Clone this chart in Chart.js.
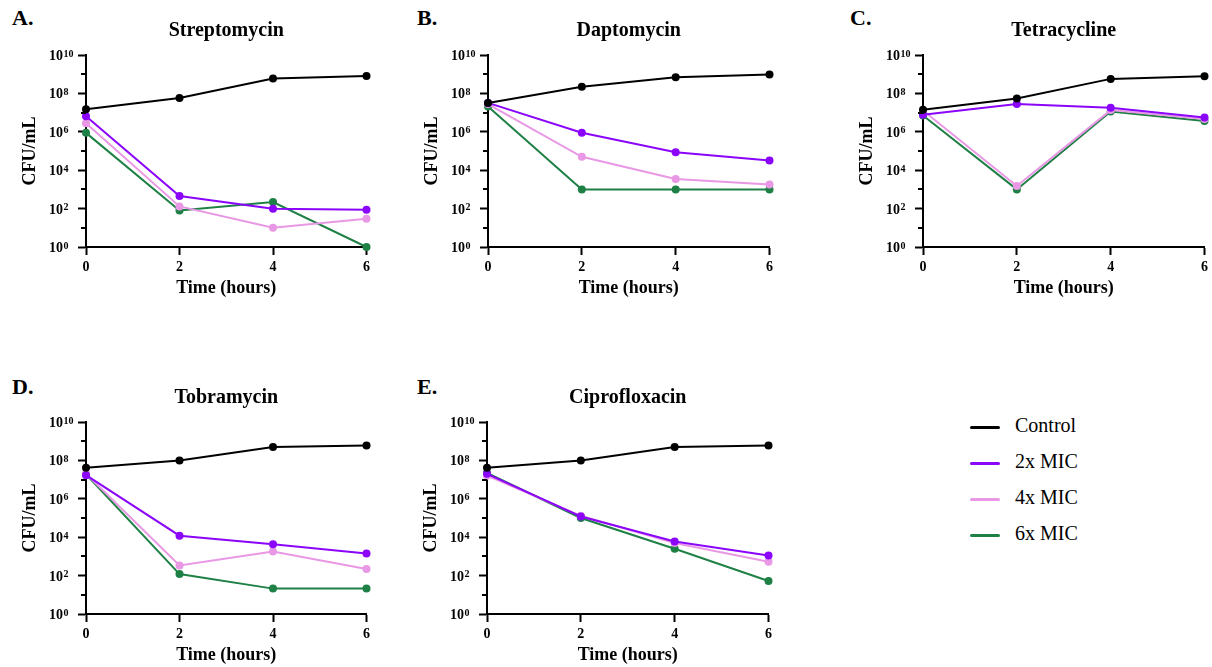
<!DOCTYPE html>
<html>
<head>
<meta charset="utf-8">
<script src="https://cdn.jsdelivr.net/npm/chart.js@4.4.1/dist/chart.umd.min.js"></script>
<style>
  body { margin: 0; width: 1212px; height: 667px; background: #fff; position: relative; overflow: hidden;
         font-family: 'Liberation Serif', 'Times New Roman', serif; }
  .panel { position: absolute; height: 300px; }
  .letter { position: absolute; font-weight: bold; font-size: 22px; line-height: 22px; }
  .legend { position: absolute; left: 970px; top: 409px; font-size: 20px; }
  .legend div { height: 36px; line-height: 33px; white-space: nowrap; }
  .legend span { display: inline-block; width: 30px; height: 3.5px; border-radius: 2px; vertical-align: middle; margin-right: 15px; }
</style>
</head>
<body>
<div class="letter" style="left:12px;top:7px">A.</div>
<div class="letter" style="left:417px;top:7px">B.</div>
<div class="letter" style="left:850px;top:7px">C.</div>
<div class="letter" style="left:12px;top:376px">D.</div>
<div class="letter" style="left:417px;top:376px">E.</div>

<canvas id="chartA" class="panel" style="left:0px;top:0px;width:374px"></canvas>
<canvas id="chartB" class="panel" style="left:402px;top:0px;width:375px"></canvas>
<canvas id="chartC" class="panel" style="left:837px;top:0px;width:375px"></canvas>
<canvas id="chartD" class="panel" style="left:0px;top:367px;width:374px"></canvas>
<canvas id="chartE" class="panel" style="left:401px;top:367px;width:375px"></canvas>

<div class="legend" id="legend"></div>

<script>
const hours = [0, 2, 4, 6];
const groups = ['Control', '2x MIC', '4x MIC', '6x MIC'];
const groupColors = ['#000000', '#8a05fa', '#e898e4', '#1f8046'];

// CFU/mL per group: Control, 2x MIC, 4x MIC, 6x MIC
const streptomycin = [
  [1.5e7, 5.8e7, 5.9e8, 8.1e8],
  [6.5e6, 450, 98, 87],
  [2.8e6, 130, 10, 30],
  [8.8e5, 80, 220, 1]
];
const daptomycin = [
  [3.2e7, 2.2e8, 6.9e8, 9.6e8],
  [3.2e7, 9e5, 8.7e4, 3.2e4],
  [2.8e7, 5e4, 3.5e3, 1.8e3],
  [2.1e7, 1e3, 1e3, 1e3]
];
const tetracycline = [
  [1.4e7, 5.4e7, 5.7e8, 7.8e8],
  [7.7e6, 2.8e7, 1.8e7, 5.6e6],
  [1.3e7, 1.5e3, 1.35e7, 4.6e6],
  [7e6, 1e3, 1.15e7, 3.7e6]
];
const tobramycin = [
  [4.2e7, 1e8, 5e8, 6e8],
  [1.7e7, 1.2e4, 4.3e3, 1.4e3],
  [2e7, 340, 1.8e3, 220],
  [1.9e7, 120, 21, 21]
];
const ciprofloxacin = [
  [4.2e7, 1e8, 5e8, 6e8],
  [2e7, 1.2e5, 6e3, 1.1e3],
  [1.6e7, 1.3e5, 5e3, 530],
  [2.2e7, 1e5, 2.5e3, 52]
];

const yDecades = [0, 2, 4, 6, 8, 10];

const serif = "'Liberation Serif', 'Times New Roman', serif";

// "10" with a raised exponent at each labelled decade, plus short ticks at the odd decades
const logAxisDecor = {
  id: 'logAxisDecor',
  afterDraw(chart) {
    const y = chart.scales.y;
    const ctx = chart.ctx;
    ctx.save();
    ctx.strokeStyle = '#000';
    ctx.lineWidth = 2;
    for (let e = 1; e < 10; e += 2) {
      const py = Math.round(y.getPixelForValue(10 ** e));
      ctx.beginPath();
      ctx.moveTo(y.right - 5, py);
      ctx.lineTo(y.right, py);
      ctx.stroke();
    }
    ctx.fillStyle = '#000';
    ctx.textAlign = 'left';
    ctx.textBaseline = 'alphabetic';
    const x0 = y.right - 37;
    yDecades.forEach(e => {
      const py = y.getPixelForValue(10 ** e);
      ctx.font = 'bold 14px ' + serif;
      ctx.fillText('10', x0, py + 5);
      const w = ctx.measureText('10').width;
      ctx.font = 'bold 10px ' + serif;
      ctx.fillText(String(e), x0 + w + 0.5, py + 1.5);
    });
    ctx.restore();
  }
};

function makeChart(id, title, values) {
  const datasets = values.map((vals, i) => ({
    label: groups[i],
    data: hours.map((h, j) => ({ x: h, y: vals[j] })),
    borderColor: groupColors[i],
    backgroundColor: groupColors[i],
    borderWidth: 2,
    pointRadius: 4,
    pointBorderWidth: 0,
    tension: 0,
    clip: false
  }));

  new Chart(document.getElementById(id), {
    type: 'line',
    data: { datasets },
    plugins: [logAxisDecor],
    options: {
      responsive: false,
      animation: false,
      events: [],
      layout: { padding: { right: 6 } },
      plugins: {
        legend: { display: false },
        tooltip: { enabled: false },
        title: {
          display: true,
          text: title,
          fullSize: false,
          color: '#000',
          font: { family: serif, size: 20, weight: 'bold', lineHeight: 1.2 },
          padding: { top: 19, bottom: 12 }
        }
      },
      scales: {
        x: {
          type: 'linear',
          min: 0,
          max: 6,
          afterFit: s => { s.height = 53; },
          border: { display: true, color: '#000', width: 2 },
          grid: { drawOnChartArea: false, drawTicks: true, tickLength: 8, tickWidth: 2, tickColor: '#000' },
          ticks: {
            stepSize: 2,
            padding: 4,
            color: '#000',
            font: { family: serif, size: 14, weight: 'bold' }
          },
          title: {
            display: true,
            text: 'Time (hours)',
            color: '#000',
            font: { family: serif, size: 18, weight: 'bold', lineHeight: 1.2 },
            padding: { top: 0, bottom: 1 }
          }
        },
        y: {
          type: 'logarithmic',
          min: 1,
          max: 1e10,
          afterFit: s => { s.width = 86; },
          afterBuildTicks: s => { s.ticks = yDecades.map(e => ({ value: 10 ** e, major: true })); },
          border: { display: true, color: '#000', width: 2 },
          grid: { drawOnChartArea: false, drawTicks: true, tickLength: 8, tickWidth: 2, tickColor: '#000' },
          ticks: {
            autoSkip: false,
            callback: () => ''
          },
          title: {
            display: true,
            text: 'CFU/mL',
            color: '#000',
            font: { family: serif, size: 18, weight: 'bold', lineHeight: 1.2 },
            padding: { top: 20, bottom: 0 }
          }
        }
      }
    }
  });
}

// canvases need explicit pixel sizes since responsive is off
document.querySelectorAll('canvas.panel').forEach(c => {
  c.width = parseInt(c.style.width);
  c.height = 300;
  c.style.height = '300px';
});

makeChart('chartA', 'Streptomycin', streptomycin);
makeChart('chartB', 'Daptomycin', daptomycin);
makeChart('chartC', 'Tetracycline', tetracycline);
makeChart('chartD', 'Tobramycin', tobramycin);
makeChart('chartE', 'Ciprofloxacin', ciprofloxacin);

const legend = document.getElementById('legend');
groups.forEach((g, i) => {
  const row = document.createElement('div');
  row.innerHTML = '<span style="background:' + groupColors[i] + '"></span>' + g;
  legend.appendChild(row);
});
</script>
</body>
</html>
